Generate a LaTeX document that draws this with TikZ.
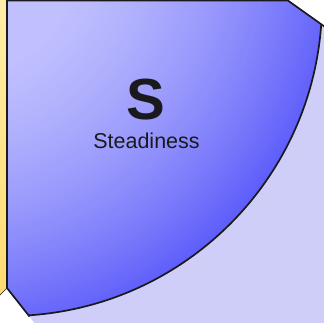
\documentclass[tikz,border=0pt]{standalone}
\usepackage{fontspec}
\newfontfamily\discfont{Liberation Sans}
\usetikzlibrary{calc}

\definecolor{tilelav}{RGB}{206,206,249}
\definecolor{sectorlight}{RGB}{220,220,255}
\definecolor{sectordark}{RGB}{80,80,250}
\definecolor{yellowtop}{RGB}{255,238,168}
\definecolor{yellowbot}{RGB}{255,218,112}
\definecolor{inkdark}{RGB}{26,26,30}

\begin{document}
\begin{tikzpicture}[
  x=1pt, y=-1pt,
  edge/.style={draw=inkdark, line width=1.7pt, line join=round},
  thinedge/.style={draw=inkdark, line width=0.6pt},
  bigletter/.style={font=\discfont\fontsize{58}{60}\selectfont\bfseries, text=inkdark, inner sep=0pt, anchor=base},
  caption/.style={font=\discfont\fontsize{21.5}{24}\selectfont, text=inkdark, inner sep=0pt, anchor=base}
]
\useasboundingbox (0,0) rectangle (323,323);
\fill[white] (0,0) rectangle (323,323);
% ----- neighbouring tile (yellow) -----
\shade[top color=yellowtop, bottom color=yellowbot] (-3,-3) -- (7,-3) -- (7,288) -- (-3,298) -- cycle;
% ----- S tile, light part outside the disc -----
\coordinate (hub) at (8,2);
\coordinate (glow) at (-60,-60);
\fill[tilelav] (7,-3) -- (283,-3) -- (330,30.5) -- (330,330) -- (40,330) -- (7,288) -- cycle;
% ----- disc quadrant, shaded ring by ring -----
\begin{scope}
  \clip (7,-3) -- (283,-3) -- (330,30.5) -- (330,330) -- (40,330) -- (7,288) -- cycle;
  \clip (hub) circle (314);
  \foreach \r in {424,421,...,70}{
    \pgfmathsetmacro\p{max(0,min(80,100*(0.898-0.04854*(\r/100)^2)))}
    \fill[sectorlight!\p!sectordark] (glow) circle (\r);
  }
\end{scope}
\begin{scope}
  \clip (7,-3) -- (283,-3) -- (330,30.5) -- (330,330) -- (40,330) -- (7,288) -- cycle;
  \draw[edge] (hub) circle (314);
\end{scope}
% ----- tile outline -----
\draw[edge] (7,-3) -- (7,288) -- (29.5,316.5);
\draw[edge] (7,0.6) -- (288,0.6) -- (330,30.5);
\draw[thinedge] (7,288) -- (-3,298);
% ----- labels -----
\node[bigletter] (letter) at (146,119.5) {S};
\node[caption]   (word)   at (146.5,148) {Steadiness};
\end{tikzpicture}
\end{document}
